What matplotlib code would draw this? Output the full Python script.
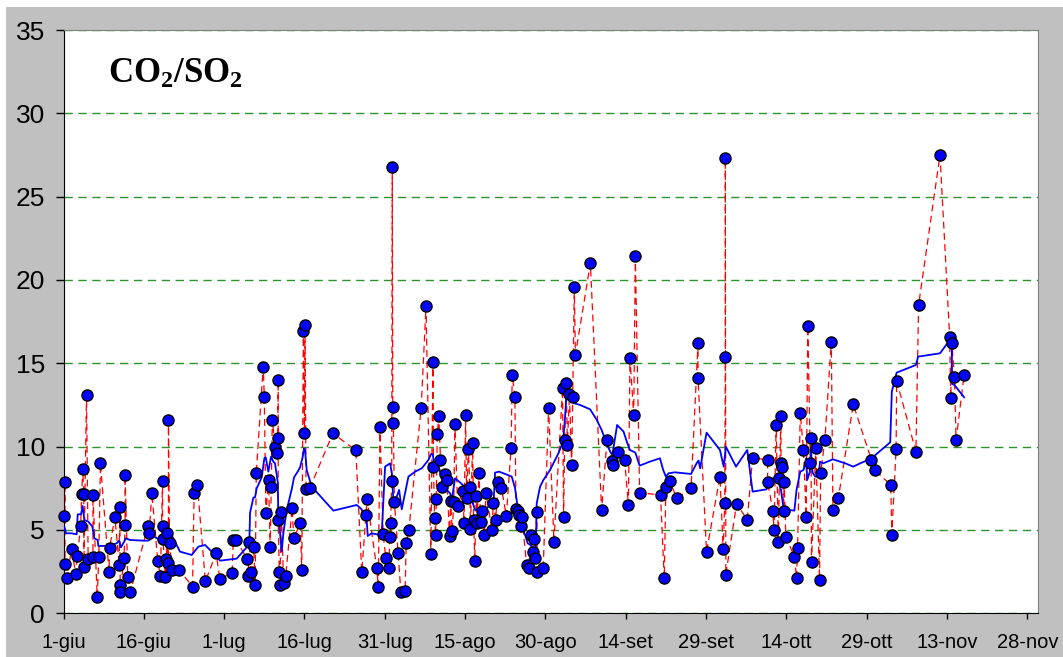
import matplotlib.pyplot as plt
from matplotlib.patches import Rectangle

# days counted from 1 June
days = [-1.5, 0.16, 0.28, 0.28, 0.6, 1.5, 2.3, 2.6, 3.2, 3.4, 3.6, 3.8, 3.8, 4.3, 4.6,
        5.5, 5.5, 6.3, 6.6, 6.9, 8.5, 8.6, 9.6, 10.4, 10.5, 10.6, 10.6, 11.3, 11.5, 11.5,
        12.0, 12.5, 15.8, 16.0, 16.5, 17.6, 18.1, 18.5, 18.5, 18.6, 19.0, 19.2, 19.4, 19.6,
        19.6, 19.8, 20.3, 21.6, 24.1, 24.4, 25.0, 26.5, 28.5, 29.2,
        31.5, 31.7, 32.3, 34.3, 34.5, 34.7, 35.0, 35.5, 35.8, 36.0, 37.3, 37.5, 37.8, 38.3,
        38.6, 38.8, 39.0, 39.5, 39.8, 40.0, 40.1, 40.1, 40.3, 40.4, 40.7, 41.1, 41.5, 42.7,
        43.0, 44.2, 44.5, 44.8, 45.0, 45.1, 45.3, 46.0, 50.3, 54.6, 55.7, 56.5, 56.7, 58.5,
        58.8, 59.1,
        59.7, 60.2, 60.7, 61.0, 61.1, 61.3, 61.4, 61.5, 61.6, 61.8, 62.5, 63.0, 63.8, 64.0,
        64.5, 66.8, 67.7, 68.6, 69.0, 69.1, 69.3, 69.5, 69.6, 69.8, 70.1, 70.4, 70.6, 71.3,
        71.6, 72.1, 72.3, 72.6, 72.9, 73.1, 73.6, 74.6, 74.8, 75.1, 75.3, 75.6, 75.9, 76.0,
        76.4, 76.6, 76.8, 77.1, 77.2, 77.6, 77.9, 78.1, 78.6, 78.9, 80.0, 80.3, 80.7, 81.2,
        81.8, 82.7, 83.6, 83.8, 84.3, 84.5, 84.9, 85.1, 85.4, 85.6, 86.5, 86.9, 87.3, 87.6,
        87.8, 88.0, 88.4, 88.5,
        89.6, 90.6, 91.6, 93.2, 93.4, 93.6, 93.9, 94.1, 94.5, 94.9, 95.1, 95.4, 95.6, 98.4,
        100.5, 101.5, 102.5, 102.6, 103.5, 104.8, 105.5, 105.8, 106.5, 106.8, 107.6, 111.5,
        112.2, 112.5, 113.3, 114.5, 117.2, 118.5, 118.5,
        120.1, 122.6, 123.2, 123.5, 123.6, 123.6, 123.7, 125.7, 127.7, 128.7, 131.5, 131.5,
        132.5, 132.7, 133.1, 133.5, 133.7, 134.0, 134.0, 134.2, 134.5, 134.6, 134.9, 136.5,
        136.9, 137.1, 137.6, 138.2, 138.7, 139.0, 139.5, 139.6, 139.7, 140.5, 141.2, 141.4,
        142.2, 143.4, 143.7, 144.7, 147.5,
        150.9, 151.5, 154.5, 154.7, 155.5, 155.6, 159.2, 159.7, 163.7, 165.5, 165.7, 165.9,
        166.4, 166.7, 168.2]
ratio = [11.2, 5.86, 7.86, 2.94, 2.14, 3.84, 2.36, 3.46, 5.26, 7.18, 8.64, 7.18, 2.78, 13.1, 3.28,
         3.4, 7.1, 1.0, 3.4, 9.0, 2.5, 3.92, 5.8, 2.9, 6.4, 1.72, 1.3, 3.32, 5.3, 8.3,
         2.18, 1.3, 5.26, 4.8, 7.24, 3.14, 2.26, 7.92, 5.22, 4.44, 2.2, 3.24, 4.8, 3.0,
         11.6, 4.2, 2.6, 2.6, 1.6, 7.2, 7.7, 1.92, 3.6, 2.08,
         2.4, 4.4, 4.4, 3.24, 2.24, 4.3, 2.5, 4.0, 1.72, 8.4, 14.8, 13.0, 6.04, 8.0,
         4.0, 7.6, 11.6, 10.0, 9.6, 10.5, 14.0, 5.6, 2.5, 1.7, 6.1, 1.8, 2.24, 6.32,
         4.5, 5.4, 2.6, 16.94, 10.8, 17.3, 7.44, 7.5, 10.8, 9.78, 2.48, 5.9, 6.86, 2.7,
         1.6, 11.2,
         4.74, 3.34, 2.72, 4.56, 5.4, 7.94, 26.8, 12.36, 11.44, 6.66, 3.6, 1.3, 1.36, 4.2,
         5.02, 12.32, 18.42, 3.54, 15.1, 8.8, 5.74, 4.7, 6.86, 10.74, 11.82, 9.2, 7.6, 8.38,
         8.0, 4.66, 6.74, 4.96, 6.7, 11.34, 6.46, 7.36, 5.4, 11.9, 6.9, 9.84, 7.56, 5.04,
         10.2, 5.6, 3.14, 7.04, 5.4, 8.4, 5.5, 6.12, 4.7, 7.24, 5.02, 6.64, 5.62, 7.86,
         7.52, 5.84, 9.92, 14.3, 13.0, 6.24, 6.16, 5.88, 5.24, 5.8, 2.9, 2.7, 4.7, 3.7,
         4.44, 3.3, 6.1, 2.5,
         2.74, 12.3, 4.3, 13.5, 5.8, 10.4, 13.8, 10.1, 13.14, 8.9, 13.0, 19.6, 15.5, 21.0,
         6.2, 10.4, 9.14, 8.9, 9.7, 9.2, 6.5, 15.3, 11.92, 21.42, 7.24, 7.1,
         2.1, 7.6, 7.92, 6.9, 7.5, 16.2, 14.1,
         3.7, 8.2, 3.84, 6.64, 15.4, 27.3, 2.32, 6.56, 5.62, 9.34, 9.2, 7.86,
         6.12, 5.0, 11.32, 4.3, 8.1, 11.84, 9.04, 8.8, 6.12, 7.9, 4.6, 3.4,
         2.1, 3.9, 12.0, 9.8, 5.8, 17.24, 9.0, 10.5, 3.1, 9.9, 2.0, 8.4,
         10.4, 16.3, 6.2, 6.9, 12.54,
         9.2, 8.6, 7.7, 4.7, 9.86, 13.96, 9.7, 18.5, 27.5, 16.6, 12.94, 16.2,
         14.2, 10.4, 14.3]

# running mean (blue line)
avg_days = [-0.84, -0.34, 0.16, 0.47, 1.53, 2.46, 2.65, 3.27, 3.58, 3.89, 4.64, 5.39, 5.76,
            6.38, 6.51, 7.75, 8.69, 9.93, 10.37, 10.74, 11.67, 12.42, 14.91, 15.84, 16.97,
            17.72, 18.46, 19.08, 19.58, 20.33, 21.76, 23.94, 25.19, 26.43, 27.68, 28.4,
            29.23, 32.35, 34.21, 34.71, 34.84, 35.46, 35.77, 36.08, 37.02, 37.51, 37.76,
            38.26, 38.76, 39.19, 39.5, 40.0, 40.12, 40.5, 40.75, 41.06, 41.69, 42.62, 43.06,
            43.74, 44.18, 44.62, 44.93, 45.11, 45.42, 46.36, 50.4, 54.76, 55.69, 56.19,
            56.63, 56.82, 57.56, 59.12, 59.43, 60.06, 61.0, 61.31, 61.61, 62.24, 62.68,
            63.17, 64.42, 65.67, 66.91, 68.15, 68.65, 68.96, 69.4, 69.71, 70.15, 70.64,
            71.58, 72.2, 72.51, 73.13, 74.25, 74.87, 75.31, 76.24, 76.87, 77.49, 78.42,
            79.36, 80.29, 80.6, 81.35, 82.16, 82.97, 83.72, 84.34, 84.84, 85.27, 85.89,
            86.7, 87.2, 87.58, 87.95, 88.2, 88.38, 89.0, 89.63, 90.87, 91.5, 92.43, 93.06,
            93.37, 93.68, 93.99, 94.3, 94.92, 95.42, 96.48, 98.35, 99.6, 100.5, 101.2,
            102.1, 102.5, 103.4, 104.6, 105.2, 105.8, 106.8, 107.6, 109.5, 111.4, 112.0,
            112.5, 113.0, 114.2, 117.2, 118.3, 118.6, 118.9, 120.1, 122.6, 123.3, 123.7,
            125.6, 127.7, 128.7, 131.3, 131.97, 132.9, 133.5, 134.0, 134.5, 136.5, 136.9,
            137.6, 138.2, 138.7, 138.9, 139.4, 139.6, 139.9, 140.4, 141.0, 141.3, 141.9,
            143.7, 146.0, 147.5, 148.8, 150.9, 154.4, 154.7, 155.6, 159.2, 159.6, 163.7,
            165.3, 165.9, 165.95, 166.4, 168.2]
avg_ratio = [5.2, 5.3, 5.2, 4.8, 4.8, 4.74, 5.94, 5.94, 6.44, 5.6, 5.5, 5.2, 4.5,
             4.4, 4.04, 4.04, 4.08, 4.2, 4.36, 3.96, 4.5, 4.4, 4.36, 4.36, 4.6,
             4.44, 4.2, 4.24, 4.6, 4.6, 3.7, 3.5, 4.0, 4.1, 3.7, 3.5,
             3.16, 3.28, 3.96, 4.2, 6.04, 6.94, 6.96, 7.5, 8.16, 9.3, 9.36,
             8.5, 9.4, 9.1, 9.0, 7.9, 6.1, 4.6, 3.7, 4.8, 6.2, 7.44, 8.16,
             8.5, 8.76, 9.3, 9.9, 9.8, 8.6, 7.6, 6.16, 6.5, 6.24, 5.64,
             5.54, 4.64, 4.8, 4.7, 4.76, 8.8, 9.0, 8.4, 6.8, 7.0, 7.4,
             6.24, 8.2, 8.5, 8.7, 9.2, 9.56, 9.54, 8.6, 8.5, 8.7, 8.1,
             7.4, 7.2, 6.8, 8.1, 7.8, 7.6, 7.0, 6.8, 6.2, 6.24, 6.2,
             6.4, 6.4, 8.44, 8.5, 8.4, 8.3, 8.2, 7.5, 6.3, 5.4, 5.0,
             4.2, 4.1, 3.96, 3.6, 3.8, 6.6, 7.6, 8.0, 8.6, 9.0, 9.6, 10.1,
             10.6, 11.8, 13.4, 13.5, 12.8, 12.6, 12.5, 12.24, 11.6, 11.0, 10.4,
             9.7, 9.5, 11.3, 10.9, 10.3, 9.8, 9.64, 8.86, 9.1, 9.3, 8.6,
             8.2, 8.4, 8.46, 8.36, 9.04, 9.16, 8.7, 10.84, 9.8, 8.8, 10.0,
             8.8, 9.8, 7.3, 7.44, 8.0, 8.16, 7.9, 7.4, 6.24, 6.16, 7.4,
             8.5, 8.6, 9.3, 8.0, 8.5, 9.8, 8.44, 8.2, 8.2, 9.1, 9.0,
             9.24, 9.0, 8.8, 9.0, 9.3, 10.26, 13.3, 14.44, 14.9, 15.4, 15.6,
             16.3, 16.1, 13.76, 13.7, 12.96]

tick_days = [0, 15, 30, 45, 60, 75, 90, 105, 120, 135, 150, 165, 180]
tick_labels = ["1-giu", "16-giu", "1-lug", "16-lug", "31-lug", "15-ago", "30-ago",
               "14-set", "29-set", "14-ott", "29-ott", "13-nov", "28-nov"]

plt.rcParams["font.family"] = "Liberation Sans"
plt.rcParams["mathtext.fontset"] = "custom"
plt.rcParams["mathtext.rm"] = "Liberation Serif"
plt.rcParams["mathtext.bf"] = "Liberation Serif:bold"

fig = plt.figure(figsize=(10.63, 6.57), dpi=100)
fig.patches.append(Rectangle((6 / 1063, 0), 1, 650 / 657, transform=fig.transFigure,
                             facecolor="#c0c0c0", edgecolor="none", zorder=-5))
ax = fig.add_axes([63.5 / 1063, 43.7 / 657, 974.5 / 1063, 583.3 / 657])

ax.plot(days, ratio, color="red", lw=0.9, ls=(0, (5.5, 3.5)), zorder=2)
ax.plot(avg_days, avg_ratio, color="#0000ff", lw=1.3, zorder=3)

# markers are not clipped at the axis edge (the point before 1 June stays hidden)
shown = [(d, r) for d, r in zip(days, ratio) if d >= 0]
ax.plot([d for d, r in shown], [r for d, r in shown], ls="none", marker="o", ms=8,
        mfc="#0000ff", mec="black", mew=1, zorder=4, clip_on=False)

ax.set_xlim(0, 182)
ax.set_ylim(0, 35)
ax.set_yticks(range(0, 36, 5))
ax.set_xticks(tick_days)
ax.set_xticklabels(tick_labels)
ax.grid(axis="y", color="#2e932e", lw=1, ls=(0, (6, 4)), zorder=0)

for s in ["left", "bottom"]:
    ax.spines[s].set_color("black")
for s in ["top", "right"]:
    ax.spines[s].set_color("#808080")
ax.tick_params(axis="y", direction="out", length=6, width=1, labelsize=19, pad=7.5)
ax.tick_params(axis="x", direction="out", length=4.5, width=1, labelsize=14.5, pad=10)

ax.text(8.3, 31.8, r"$\mathbf{CO_2/SO_2}$", fontsize=25, va="baseline", ha="left")

fig.savefig("out.png", dpi=100)
